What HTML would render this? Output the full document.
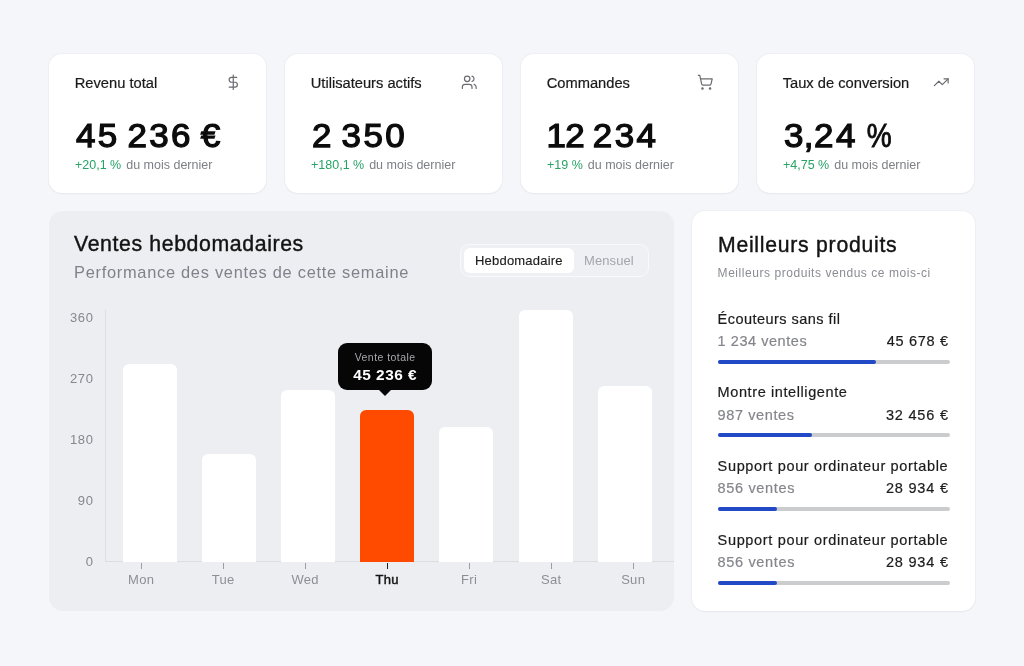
<!DOCTYPE html>
<html lang="fr">
<head>
<meta charset="utf-8">
<title>Tableau de bord</title>
<style>
*{box-sizing:border-box;margin:0;padding:0}
html,body{width:1024px;height:666px;overflow:hidden}
body{background:#f5f6fa;font-family:"Liberation Sans",sans-serif;color:#111;position:relative;-webkit-font-smoothing:antialiased}
.abs{position:absolute;white-space:nowrap;line-height:1}
.card{position:absolute;background:#fff;border-radius:13px;box-shadow:0 0 0 1px rgba(228,230,236,.35),0 1px 2px rgba(20,25,40,.05)}
.stat{top:54px;width:217.2px;height:139px}
.stat .t{left:25.7px;top:21.6px;font-size:14.7px;color:#1a1a1a;-webkit-text-stroke:.2px #1a1a1a}
.stat .v{left:26.6px;top:64.9px;font-size:33px;font-weight:400;-webkit-text-stroke:1.25px #0c0c0c;color:#0c0c0c;letter-spacing:2.24px;word-spacing:-4.1px;transform:scaleX(1.06);transform-origin:0 50%}
.stat .s{left:26px;top:105px;font-size:12.5px;color:#7d7f86}
.stat .s b{font-weight:400;color:#27a365;margin-right:1.5px}
.stat svg{position:absolute;right:24.6px;top:20px;width:16.5px;height:16.5px;stroke:#6a6b70;fill:none;stroke-width:1.75;stroke-linecap:round;stroke-linejoin:round}
.chart{position:absolute;left:49px;top:211px;width:624.6px;height:400px;background:#edeef1;border-radius:14px}
.bar{position:absolute;width:54px;background:#fff;border-radius:6px 6px 0 0}
.yl{right:580.6px;font-size:13px;letter-spacing:.7px;margin-right:-.7px;color:#85878d;text-align:right;margin-top:-1.2px}
.xl{font-size:13px;letter-spacing:.3px;text-indent:.3px;color:#8d8f96;width:60px;text-align:center;top:361.6px}
.tick{position:absolute;width:1.4px;height:6px;background:#9a9ca3;top:352px;margin-left:-.2px}
.prod .n{left:25.6px;font-size:14.5px;letter-spacing:.46px;color:#1c1c1c;-webkit-text-stroke:.2px #1c1c1c}
.prod .c{left:25.6px;font-size:14.5px;letter-spacing:.5px;color:#85868b;-webkit-text-stroke:.2px #85868b}
.prod .p{right:27px;font-size:14.5px;letter-spacing:.6px;margin-right:-.6px;color:#1c1c1c;text-align:right;-webkit-text-stroke:.2px #1c1c1c}
.prod .trk{position:absolute;left:25.6px;width:232.2px;height:4px;border-radius:2px;background:#cbccce}
.prod .trk i{position:absolute;left:0;top:0;height:4px;border-radius:2px;background:#2249c6}
</style>
</head>
<body>

<div class="card stat" style="left:49px">
  <div class="abs t">Revenu total</div>
  <svg viewBox="0 0 24 24"><line x1="12" y1="1.5" x2="12" y2="22.5"/><path d="M17 5H9.5a3.5 3.5 0 0 0 0 7h5a3.5 3.5 0 0 1 0 7H6"/></svg>
  <div class="abs v">45 236 €</div>
  <div class="abs s"><b>+20,1 %</b> du mois dernier</div>
</div>

<div class="card stat" style="left:285px">
  <div class="abs t">Utilisateurs actifs</div>
  <svg viewBox="0 0 24 24"><path d="M16 21v-2a4 4 0 0 0-4-4H6a4 4 0 0 0-4 4v2"/><circle cx="9" cy="7" r="4"/><path d="M22 21v-2a4 4 0 0 0-3-3.87"/><path d="M16 3.13a4 4 0 0 1 0 7.75"/></svg>
  <div class="abs v">2 350</div>
  <div class="abs s"><b>+180,1 %</b> du mois dernier</div>
</div>

<div class="card stat" style="left:521px">
  <div class="abs t">Commandes</div>
  <svg viewBox="0 0 24 24"><circle cx="8" cy="21" r="1"/><circle cx="19" cy="21" r="1"/><path d="M2.05 2.05h2l2.66 12.42a2 2 0 0 0 2 1.58h9.78a2 2 0 0 0 1.95-1.57l1.65-7.43H5.12"/></svg>
  <div class="abs v" style="word-spacing:-6px"><span style="margin-left:-1.5px;letter-spacing:-.6px">1</span>2 234</div>
  <div class="abs s"><b>+19 %</b> du mois dernier</div>
</div>

<div class="card stat" style="left:757px">
  <div class="abs t">Taux de conversion</div>
  <svg viewBox="0 0 24 24"><polyline points="22 7 13.5 15.5 8.5 10.5 2 17"/><polyline points="16 7 22 7 22 13"/></svg>
  <div class="abs v">3<span style="margin-left:-2px;letter-spacing:.6px">,</span>24 <span style="display:inline-block;transform:scaleX(.8);transform-origin:0 50%;margin-left:1.5px;-webkit-text-stroke-width:.9px">%</span></div>
  <div class="abs s"><b>+4,75 %</b> du mois dernier</div>
</div>

<div class="chart">
  <div class="abs" style="left:25px;top:23.2px;font-size:21.3px;letter-spacing:.6px;color:#131313;-webkit-text-stroke:.4px #131313">Ventes hebdomadaires</div>
  <div class="abs" style="left:25px;top:53px;font-size:16.4px;letter-spacing:.72px;color:#7f828b">Performance des ventes de cette semaine</div>

  <div style="position:absolute;left:411px;top:33px;width:189px;height:33px;border:1px solid #f8f9fb;border-radius:9px;background:#eff0f3"></div>
  <div style="position:absolute;left:415px;top:37px;width:110px;height:25px;border-radius:6px;background:#fff"></div>
  <div class="abs" style="left:426px;top:43px;font-size:13px;letter-spacing:.2px;color:#1d1d1d;-webkit-text-stroke:.15px #1d1d1d">Hebdomadaire</div>
  <div class="abs" style="left:535px;top:43px;font-size:13px;letter-spacing:.1px;color:#a3a5ac">Mensuel</div>

  <div class="abs yl" style="top:101px">360</div>
  <div class="abs yl" style="top:162px">270</div>
  <div class="abs yl" style="top:223px">180</div>
  <div class="abs yl" style="top:284px">90</div>
  <div class="abs yl" style="top:345px">0</div>
  <div style="position:absolute;left:56.2px;top:99px;width:1px;height:252px;background:#dddee2"></div>
  <div style="position:absolute;left:57px;top:350.4px;width:567.6px;height:1px;background:#dcdde1"></div>

  <div class="bar" style="left:74px;top:153px;height:197.5px"></div>
  <div class="bar" style="left:153px;top:243px;height:107.5px"></div>
  <div class="bar" style="left:232px;top:179px;height:171.5px"></div>
  <div class="bar" style="left:311.4px;top:199px;height:151.5px;background:#ff4b00"></div>
  <div class="bar" style="left:390.3px;top:216px;height:134.5px"></div>
  <div class="bar" style="left:469.5px;top:99px;height:251.5px"></div>
  <div class="bar" style="left:548.6px;top:175px;height:175.5px"></div>

  <div class="tick" style="left:92px"></div>
  <div class="tick" style="left:174px"></div>
  <div class="tick" style="left:256px"></div>
  <div class="tick" style="left:338px;background:#222"></div>
  <div class="tick" style="left:420px"></div>
  <div class="tick" style="left:502px"></div>
  <div class="tick" style="left:584px"></div>
  <div class="abs xl" style="left:62px">Mon</div>
  <div class="abs xl" style="left:144px">Tue</div>
  <div class="abs xl" style="left:226px">Wed</div>
  <div class="abs xl" style="left:308px;color:#151515;-webkit-text-stroke:.45px #151515">Thu</div>
  <div class="abs xl" style="left:390px">Fri</div>
  <div class="abs xl" style="left:472px">Sat</div>
  <div class="abs xl" style="left:554px">Sun</div>

  <div style="position:absolute;left:288.6px;top:132.2px;width:94.6px;height:47px;border-radius:9px;background:#060606"></div>
  <div style="position:absolute;left:329.6px;top:179px;width:0;height:0;border-left:6.5px solid transparent;border-right:6.5px solid transparent;border-top:6px solid #060606"></div>
  <div class="abs" style="left:288.6px;width:94.6px;text-align:center;top:141px;font-size:10.5px;letter-spacing:.45px;text-indent:.45px;color:#a6a7aa">Vente totale</div>
  <div class="abs" style="left:288.6px;width:94.6px;text-align:center;top:155.5px;font-size:15.4px;letter-spacing:.5px;text-indent:.5px;font-weight:700;color:#fff">45 236 €</div>
</div>

<div class="card prod" style="left:692px;top:211px;width:283px;height:400px">
  <div class="abs" style="left:26px;top:23.4px;font-size:21.2px;letter-spacing:.74px;color:#131313;-webkit-text-stroke:.4px #131313">Meilleurs produits</div>
  <div class="abs" style="left:25.6px;top:56px;font-size:12px;letter-spacing:.55px;color:#8a8c93">Meilleurs produits vendus ce mois-ci</div>

  <div class="abs n" style="top:100.50px;letter-spacing:0.46px">Écouteurs sans fil</div>
  <div class="abs c" style="top:123.00px;letter-spacing:0.55px">1 234 ventes</div>
  <div class="abs p" style="top:123.00px;letter-spacing:0.68px;margin-right:-0.68px">45 678 €</div>
  <div class="trk" style="top:148.80px"><i style="width:158px"></i></div>

  <div class="abs n" style="top:174.17px;letter-spacing:0.6px">Montre intelligente</div>
  <div class="abs c" style="top:196.67px;letter-spacing:0.6px">987 ventes</div>
  <div class="abs p" style="top:196.67px;letter-spacing:0.8px;margin-right:-0.8px">32 456 €</div>
  <div class="trk" style="top:222.47px"><i style="width:94px"></i></div>

  <div class="abs n" style="top:247.84px;letter-spacing:0.66px">Support pour ordinateur portable</div>
  <div class="abs c" style="top:270.34px;letter-spacing:0.65px">856 ventes</div>
  <div class="abs p" style="top:270.34px;letter-spacing:0.8px;margin-right:-0.8px">28 934 €</div>
  <div class="trk" style="top:296.14px"><i style="width:59px"></i></div>

  <div class="abs n" style="top:321.51px;letter-spacing:0.66px">Support pour ordinateur portable</div>
  <div class="abs c" style="top:344.01px;letter-spacing:0.65px">856 ventes</div>
  <div class="abs p" style="top:344.01px;letter-spacing:0.8px;margin-right:-0.8px">28 934 €</div>
  <div class="trk" style="top:369.81px"><i style="width:59px"></i></div>
</div>

</body>
</html>
